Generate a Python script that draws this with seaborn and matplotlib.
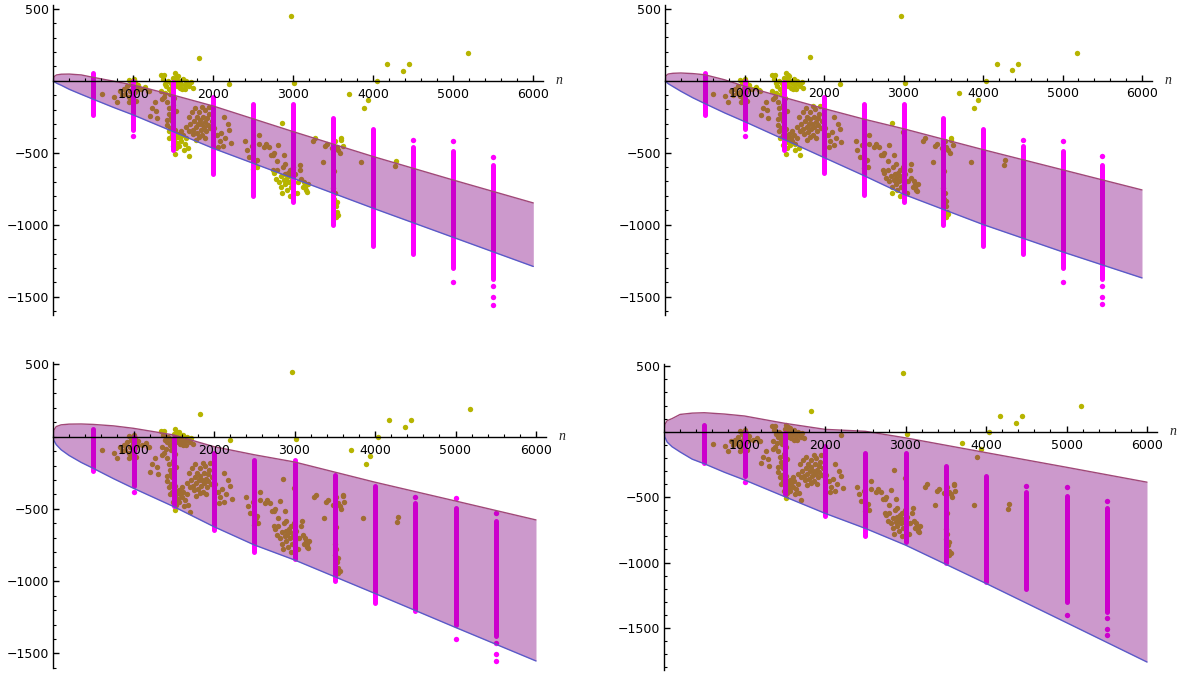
import matplotlib
matplotlib.use("Agg")
import matplotlib.pyplot as plt
import seaborn as sns
from matplotlib.ticker import FixedLocator, MultipleLocator

sns.set_theme(style="white")
plt.rcParams["font.family"] = ["DejaVu Sans"]

# ---------------- data ----------------
# x tick / y tick labels
x_ticks = [1000, 2000, 3000, 4000, 5000, 6000]
x_tick_labels = ["1000", "2000", "3000", "4000", "5000", "6000"]
y_ticks = [-1500, -1000, -500, 500]
y_tick_labels = ["\u22121500", "\u22121000", "\u2212500", "500"]
x_label = "n"

# magenta sample columns (continuous part) and isolated magenta dots
col_n = [500, 1000, 1500, 2000, 2500, 3000, 3500, 4000, 4500, 5000, 5500]
col_top = [55, -5, -10, -113, -160, -160, -262, -338, -458, -490, -585]
col_bottom = [-240, -340, -480, -645, -798, -845, -1000, -1150, -1205, -1302, -1378]
dot_n = [1000, 4500, 5000, 5000, 5500, 5500, 5500, 5500]
dot_y = [-385, -415, -422, -1400, -527, -1426, -1505, -1555]

# observed points (olive)
obs_n = [2971, 1825, 5179, 4175, 4446, 4367, 4042, 3013, 2200, 3700, 3883, 3935, 605,
         860, 880, 900, 920, 940, 945, 960, 970, 980, 985, 990, 1000, 1005, 1015, 1020,
         1030, 1040, 950, 1060, 1100, 1150, 1190, 760, 790, 830,
         1184, 1205, 1267, 1288, 1230, 1300,
         1340, 1370, 1383, 1390, 1410, 1430, 1450, 1460, 1480, 1350, 1380, 1420, 1440,
         1400, 1360, 1470, 1500, 1521, 1530, 1545, 1550, 1560, 1580, 1600, 1620, 1640,
         1660, 1680, 1700, 1720, 1740, 1580, 1610, 1650, 1550, 1510, 1490, 1530, 1470,
         1450, 1480, 1420,
         1420, 1440, 1460, 1480, 1500, 1510, 1520, 1540, 1550, 1560, 1570, 1580, 1600,
         1620, 1640, 1660, 1680, 1490, 1530, 1450, 1600, 1700, 1520, 1630,
         1690, 1710, 1730, 1740, 1760, 1770, 1780, 1790, 1800, 1810, 1820, 1830, 1840,
         1850, 1860, 1870, 1880, 1890, 1900, 1910, 1920, 1930, 1940, 1950, 1750, 1820,
         1780, 1700, 1960, 1980, 1660, 1860, 1900,
         2010, 2050, 2080, 2100, 2120, 2150, 2180, 2060, 2200, 2130, 2220,
         2400, 2420, 2450, 2480, 2520, 2550, 2540, 2571, 2571, 2634, 2696, 2814, 2720,
         2745, 2882, 2745, 2861, 2660, 2760, 2500,
         2760, 2780, 2800, 2820, 2840, 2850, 2870, 2880, 2890, 2900, 2910, 2920, 2930,
         2940, 2950, 2960, 2970, 2980, 2990, 3000, 3020, 3040, 3060, 3080, 3100, 3120,
         3140, 2860, 2960, 3160, 2800, 2900, 2998, 3089, 3130, 3150, 3170, 3180,
         3242, 3271, 3391, 3367, 3420, 3480, 3520, 3540, 3560, 3600, 3620, 3602, 3580,
         3510, 3500, 3520, 3505, 3540, 3530, 3545, 3535, 3560, 3847, 4269, 4280]
obs_y = [449, 160, 193, 118, 118, 70, -2, -15, -24, -90, -190, -134, -92,
         -100, -60, -90, -40, -110, 5, -70, -20, -130, -5, -50, -100, 10, -10, -80,
         -140, -60, -150, -30, -60, -45, -70, -110, -150, -70,
         -69, -242, -150, -207, -190, -260,
         40, 10, 41, -20, -40, 0, -60, -95, -30, -70, -115, -150, -190,
         -85, -130, -15, 20, 55, 10, 35, -10, 30, 0, -20, 10, -30,
         0, -20, -40, -10, -50, -50, -60, -60, -40, -120, -170, -210, -250,
         -230, -280, -270,
         -310, -350, -330, -380, -360, -410, -340, -390, -430, -370, -450, -400, -420,
         -380, -440, -400, -470, -450, -470, -400, -350, -520, -510, -480,
         -250, -300, -220, -340, -280, -190, -320, -250, -360, -300, -220, -270, -340,
         -300, -380, -250, -320, -200, -290, -350, -260, -310, -230, -180, -370, -390,
         -410, -350, -330, -280, -320, -180, -400,
         -330, -380, -420, -360, -450, -400, -300, -460, -340, -250, -430,
         -420, -480, -530, -450, -560, -600, -550, -380, -438, -461, -461, -445, -515,
         -515, -515, -620, -295, -440, -500, -610,
         -640, -680, -620, -700, -660, -740, -600, -690, -650, -720, -680, -760, -640,
         -700, -660, -620, -740, -690, -600, -720, -650, -780, -700, -620, -680, -740,
         -720, -780, -800, -760, -560, -580, -357, -583, -700, -740, -770, -720,
         -420, -401, -455, -563, -440, -470, -420, -460, -480, -410, -450, -401, -500,
         -625, -745, -780, -820, -840, -870, -910, -945, -930, -563, -590, -555]

# band boundaries, read at these n values, for each of the four panels
band_n = [0, 10, 40, 100, 200, 350, 500, 750, 1000, 1500, 2000, 2500, 3000, 4000, 5000, 6000]
upper_1 = [0, 28, 40, 45, 46, 40, 23, -3, -30, -100, -176, -265, -354, -527, -690, -849]
lower_1 = [0, -6, -17, -32, -60, -95, -129, -185, -238, -354, -470, -574, -678, -886, -1088, -1290]
upper_2 = [0, 32, 45, 50, 52, 48, 40, 5, -40, -118, -195, -268, -335, -480, -620, -760]
lower_2 = [0, -8, -22, -42, -75, -120, -160, -225, -285, -410, -535, -660, -790, -1000, -1190, -1371]
upper_3 = [0, 45, 70, 82, 87, 88, 85, 75, 58, 12, -69, -125, -175, -315, -445, -576]
lower_3 = [0, -25, -55, -90, -130, -178, -219, -290, -357, -484, -623, -749, -853, -1085, -1320, -1552]
upper_4 = [0, 55, 85, 100, 132, 142, 145, 135, 120, 64, 18, 3, -47, -160, -272, -386]
lower_4 = [0, -40, -80, -115, -155, -210, -245, -310, -369, -497, -624, -739, -867, -1160, -1460, -1761]

uppers = [upper_1, upper_2, upper_3, upper_4]
lowers = [lower_1, lower_2, lower_3, lower_4]

# ---------------- layout / style ----------------
W, H = 1188, 677
OLIVE = "#b6b400"
MAGENTA = "#ff00ff"
FILL = (0.5, 0.0, 0.5)
UP_LINE = "#a04878"
LO_LINE = "#5a5ac8"
XMAX = 6120

# (origin px x, px per unit x, zero px y, px per unit y, ymax, ymin)
specs = [
    (53.3, 0.0800, 80.7, 0.1440, 525, -1630),
    (665.0, 0.0795, 80.5, 0.1440, 525, -1630),
    (53.0, 0.0805, 436.7, 0.1445, 520, -1600),
    (664.0, 0.0805, 431.7, 0.1308, 518, -1823),
]

fig = plt.figure(figsize=(W / 100, H / 100), dpi=100)

for i, (ox, sx, y0, sy, ymax, ymin) in enumerate(specs):
    left = ox / W
    width = XMAX * sx / W
    bottom_px = y0 - ymin * sy
    bottom = 1 - bottom_px / H
    height = (ymax - ymin) * sy / H
    ax = fig.add_axes([left, bottom, width, height])
    ax.set_facecolor("white")

    # observed points
    sns.scatterplot(x=obs_n, y=obs_y, color=OLIVE, s=15, linewidth=0, ax=ax, zorder=2)
    # magenta columns
    lc = ax.vlines(col_n, col_bottom, col_top, colors=MAGENTA, linewidth=3.6, zorder=2)
    lc.set_capstyle("round")
    sns.scatterplot(x=dot_n, y=dot_y, color=MAGENTA, s=15, linewidth=0, ax=ax, zorder=2)

    # band
    ax.fill_between(band_n, lowers[i], uppers[i], color=FILL, alpha=0.4, linewidth=0, zorder=3)
    sns.lineplot(x=band_n, y=uppers[i], color=UP_LINE, lw=1.0, ax=ax, zorder=4,
                 estimator=None, sort=False)
    sns.lineplot(x=band_n, y=lowers[i], color=LO_LINE, lw=1.0, ax=ax, zorder=4,
                 estimator=None, sort=False)

    ax.set_xlim(0, XMAX)
    ax.set_ylim(ymin, ymax)

    for s in ["top", "right"]:
        ax.spines[s].set_visible(False)
    ax.spines["bottom"].set_position(("data", 0))
    ax.spines["left"].set_position(("data", 0))
    for s in ["bottom", "left"]:
        ax.spines[s].set_color("black")
        ax.spines[s].set_linewidth(1.0)
        ax.spines[s].set_zorder(6)

    ax.xaxis.set_major_locator(FixedLocator(x_ticks))
    ax.set_xticklabels(x_tick_labels)
    ax.xaxis.set_minor_locator(MultipleLocator(200))
    ax.yaxis.set_major_locator(FixedLocator(y_ticks))
    ax.set_yticklabels(y_tick_labels)
    ax.yaxis.set_minor_locator(MultipleLocator(100))
    ax.tick_params(axis="both", which="major", direction="in", length=4.5, width=1.0,
                   color="black", labelsize=9, labelcolor="black")
    ax.tick_params(axis="both", which="minor", direction="in", length=2.5, width=0.8,
                   color="black")
    ax.tick_params(axis="x", which="major", pad=5)
    ax.tick_params(axis="y", which="major", pad=3)
    ax.tick_params(bottom=True, left=True, which="both")
    ax.xaxis.set_zorder(6)
    ax.yaxis.set_zorder(6)
    ax.set_xlabel("")
    ax.set_ylabel("")
    ax.grid(False)

    ax.annotate(x_label, xy=(1.0, 0), xycoords=("axes fraction", "data"),
                xytext=(9, 0), textcoords="offset points", ha="left", va="center",
                fontsize=10, fontstyle="italic", family="Liberation Serif",
                annotation_clip=False)

fig.savefig("out.png", dpi=100)
